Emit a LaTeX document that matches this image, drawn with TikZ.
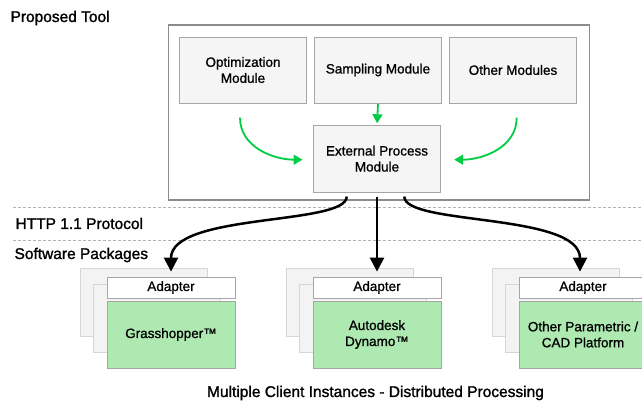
\documentclass[tikz,border=0pt]{standalone}
\usepackage{fontspec}
\setmainfont{Liberation Sans}[FakeBold=0.9]
\newfontfamily\headfont{Liberation Sans}[FakeBold=1.4]
\usetikzlibrary{arrows.meta}
\definecolor{modfill}{HTML}{F5F5F5}
\definecolor{modline}{HTML}{A6A6A6}
\definecolor{ghostfill}{HTML}{F3F3F3}
\definecolor{ghostline}{HTML}{D6D6D6}
\definecolor{pfgreen}{HTML}{AEE9B2}
\definecolor{flowgreen}{HTML}{00CC44}
\begin{document}
\begin{tikzpicture}[x=1pt, y=1pt,
        module/.style={draw=modline, fill=modfill, line width=0.8pt, minimum width=127pt,
            minimum height=66pt, align=center, font=\fontsize{13.5}{16}\selectfont},
        adapter/.style={draw=modline, fill=white, line width=0.8pt, minimum width=128pt,
            minimum height=21pt, font=\fontsize{13.5}{16}\selectfont},
        platform/.style={draw=modline, fill=pfgreen, line width=0.8pt, minimum width=128pt,
            minimum height=67pt, align=center, font=\fontsize{13.5}{16}\selectfont},
        ghost/.style={draw=ghostline, fill=ghostfill, line width=0.8pt},
        heading/.style={font=\headfont\fontsize{15.5}{18}\selectfont},
        flow/.style={draw=flowgreen, line width=1.8pt, -{Triangle[width=10pt,length=9pt]}},
        link/.style={line width=2.5pt, -{Triangle[width=14pt,length=14pt]}}
    ]
    \useasboundingbox (0, 0) rectangle (642, 403);

    % Proposed tool with its modules
    \node[heading, anchor=base west] (tool) at (7, 381) {Proposed Tool};
    \draw[draw=gray!90, line width=1.6pt] (168.3, 203) rectangle (589.3, 378);
    \node[module] (opt) at (243, 333) {Optimization\\Module};
    \node[module] (samp) at (378, 333) {Sampling Module};
    \node[module] (other) at (513, 333) {Other Modules};
    \node[module, minimum height=67pt] (ext) at (377, 244.3) {External Process\\Module};

    % Green arrows into the external process module
    \coordinate (optout) at (240, 285.3);
    \coordinate (otherout) at (516.7, 285.3);
    \draw[flow, shorten <=0.5pt, shorten >=1.5pt] (samp.south) -- (ext.north);
    \draw[flow] (optout) .. controls +(0, -30) and +(-28, 0) .. ([xshift=-10.6pt, yshift=-1pt]ext.west);
    \draw[flow] (otherout) .. controls +(0, -30) and +(28, 0) .. ([xshift=13.3pt, yshift=-1pt]ext.east);

    % Layer separators
    \draw[gray!60, line width=0.7pt, dash pattern=on 3pt off 2pt] (13, 196) -- (642, 196);
    \draw[gray!60, line width=0.7pt, dash pattern=on 3pt off 2pt] (13, 163) -- (642, 163);
    \node[heading, anchor=base west] (http) at (12, 174) {HTTP 1.1 Protocol};
    \node[heading, anchor=base west] (soft) at (11, 144) {Software Packages};

    % Client instances, each a stack of copies
    \foreach \x/\name in {107/gh, 313/dyn, 519/oth}{
        \draw[ghost] (\x - 27, 135) rectangle (\x + 100, 67);
        \draw[ghost] (\x - 14, 119) rectangle (\x + 113, 51);
        \node[adapter] (ad\name) at (\x + 64, 115.5) {Adapter};
    }
    \node[platform] (pfgh) at (171, 68.5) {Grasshopper™};
    \node[platform] (pfdyn) at (377, 68.5) {Autodesk\\Dynamo™};
    \node[platform] (pfoth) at (583, 68.5) {Other Parametric /\\CAD Platform};

    % Requests sent out to the clients
    \draw[link, shorten <=4pt, shorten >=5pt] ([xshift=-30.3pt]ext.south) .. controls +(0, -33) and +(0, 64) .. (adgh.north);
    \draw[link, shorten <=4pt, shorten >=5pt] (ext.south) -- (addyn.north);
    \draw[link, shorten <=4pt, shorten >=5pt] ([xshift=27.3pt]ext.south) .. controls +(0, -33) and +(0, 64) .. ([xshift=-3pt]adoth.north);

    \node[heading, anchor=base] (multi) at (375.5, 6) {Multiple Client Instances - Distributed Processing};
\end{tikzpicture}
\end{document}
